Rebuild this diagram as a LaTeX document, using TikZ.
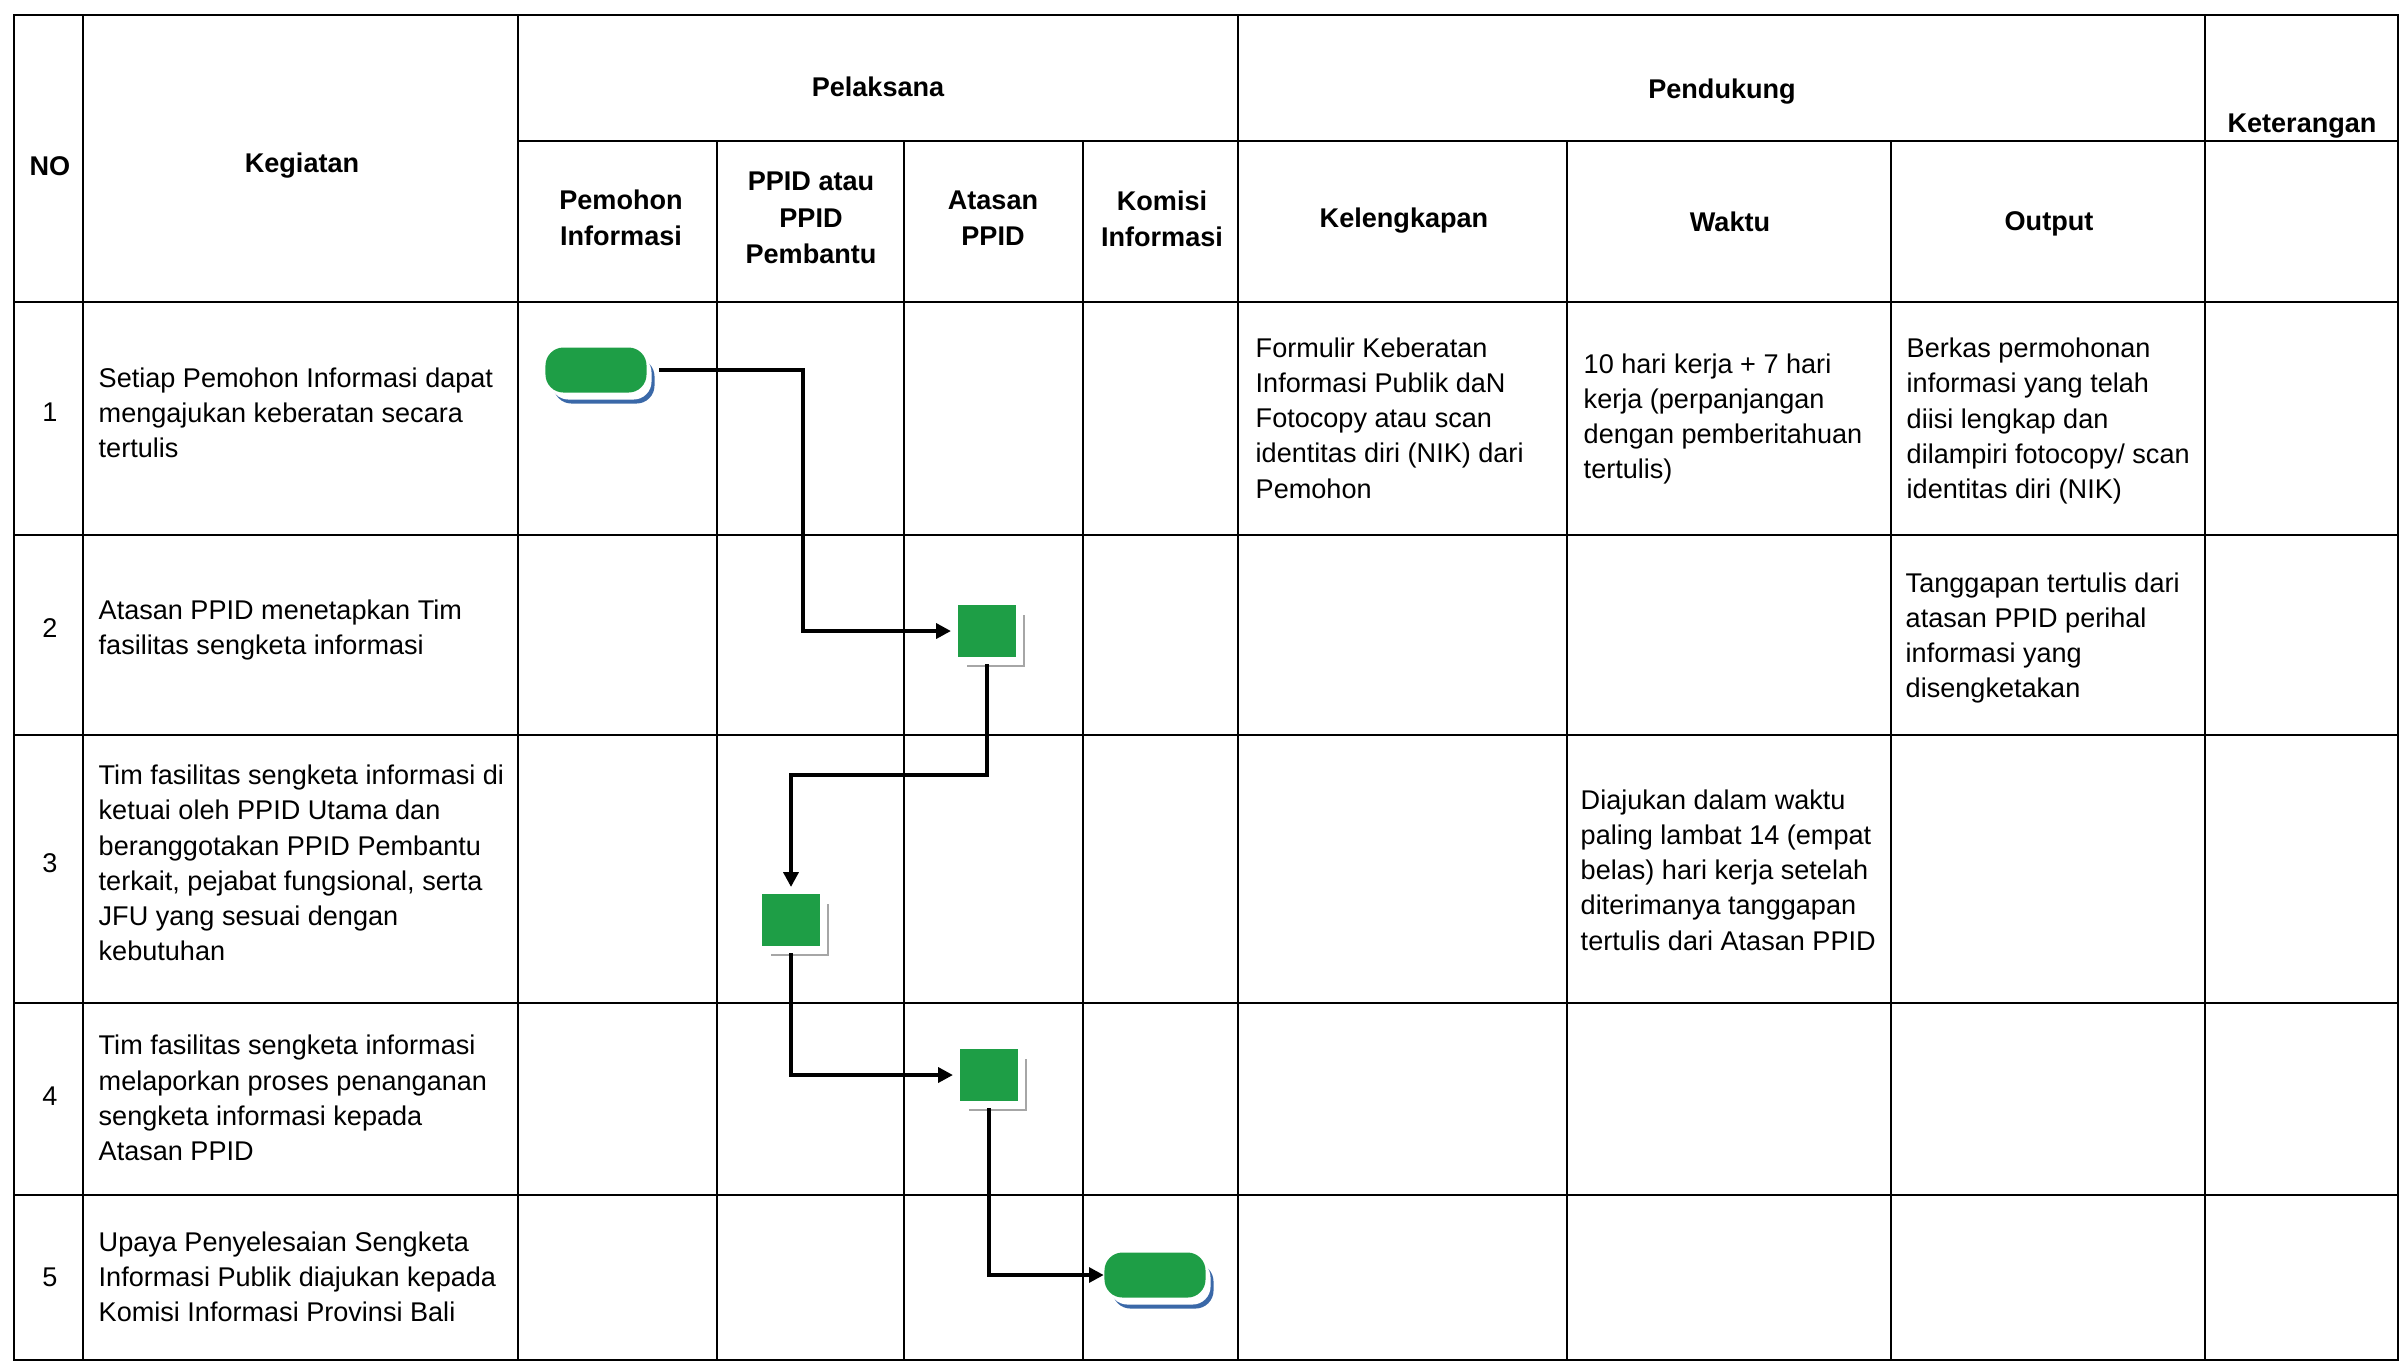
\documentclass[tikz,border=0pt]{standalone}
\usepackage{fontspec}
\setmainfont{Liberation Sans}
\usetikzlibrary{arrows.meta,shadows}
\definecolor{boxgreen}{RGB}{30,158,70}
\definecolor{shadeblue}{RGB}{58,104,168}

\begin{document}
\begin{tikzpicture}[x=0.01cm,y=-0.01cm,
  grid/.style={line width=0.7pt},
  hd/.style={font=\fontsize{7.7}{10.3}\selectfont\bfseries,align=center,inner sep=0pt},
  txt/.style={font=\fontsize{7.7}{10}\selectfont,align=left,anchor=west,inner sep=0pt},
  num/.style={font=\fontsize{7.7}{10}\selectfont,inner sep=0pt},
  term/.style={fill=boxgreen,rounded corners=0.18cm,minimum width=1.01cm,minimum height=0.45cm,inner sep=0pt,
    general shadow={fill=shadeblue,shadow xshift=0.08cm,shadow yshift=-0.11cm},
    general shadow={fill=white,shadow xshift=0.05cm,shadow yshift=-0.07cm}},
  act/.style={fill=boxgreen,minimum width=0.58cm,minimum height=0.52cm,inner sep=0pt,outer sep=0.07cm,
    general shadow={fill=gray!70,shadow xshift=0.09cm,shadow yshift=-0.1cm},
    general shadow={fill=white,shadow xshift=0.07cm,shadow yshift=-0.08cm}},
  flow/.style={line width=1.1pt,-{Triangle[length=4.2pt,width=4.2pt]}}]
\useasboundingbox (0,0) rectangle (2403,1365);

\draw[grid] (14,15) rectangle (2398,1360);
\foreach \y in {302,535,735,1003,1195} \draw[grid] (14,\y) -- (2398,\y);
\draw[grid] (518,141) -- (2398,141);
\foreach \x in {83,518,1238,2205} \draw[grid] (\x,15) -- (\x,1360);
\foreach \x in {717,904,1083,1567,1891} \draw[grid] (\x,141) -- (\x,1360);

\node[hd] (no) at (50,166) {NO};
\node[hd] (keg) at (302,166) {Kegiatan};
\node[hd] (pel) at (878,87) {Pelaksana};
\node[hd] (pen) at (1722,92) {Pendukung};
\node[hd] (ket) at (2302,126) {Keterangan};
\node[hd] (pem) at (621,218) {Pemohon\\Informasi};
\node[hd] (ppid) at (811,218) {PPID atau\\PPID\\Pembantu};
\node[hd] (ata) at (993,218) {Atasan\\PPID};
\node[hd] (kom) at (1162,219) {Komisi\\Informasi};
\node[hd] (kel) at (1404,221) {Kelengkapan};
\node[hd] (wkt) at (1730,222) {Waktu};
\node[hd] (out) at (2049,224) {Output};

\node[num] (n1) at (50,412) {1};
\node[num] (n2) at (50,628) {2};
\node[num] (n3) at (50,863) {3};
\node[num] (n4) at (50,1096) {4};
\node[num] (n5) at (50,1277) {5};

\node[txt] (k1txt) at (98,413) {Setiap Pemohon Informasi dapat\\mengajukan keberatan secara\\tertulis};
\node[txt] (k2txt) at (98,630) {Atasan PPID menetapkan Tim\\fasilitas sengketa informasi};
\node[txt] (k3txt) at (98,863) {Tim fasilitas sengketa informasi di\\ketuai oleh PPID Utama dan\\beranggotakan PPID Pembantu\\terkait, pejabat fungsional, serta\\JFU yang sesuai dengan\\kebutuhan};
\node[txt] (k4txt) at (98,1098) {Tim fasilitas sengketa informasi\\melaporkan proses penanganan\\sengketa informasi kepada\\Atasan PPID};
\node[txt] (k5txt) at (98,1277) {Upaya Penyelesaian Sengketa\\Informasi Publik diajukan kepada\\Komisi Informasi Provinsi Bali};

\node[txt] (kel1) at (1255,418) {Formulir Keberatan\\Informasi Publik daN\\Fotocopy atau scan\\identitas diri (NIK) dari\\Pemohon};
\node[txt] (wkt1) at (1583,419) {10 hari kerja + 7 hari\\kerja (perpanjangan\\dengan pemberitahuan\\tertulis)};
\node[txt] (out1) at (1906,421) {Berkas permohonan\\informasi yang telah\\diisi lengkap dan\\dilampiri fotocopy/ scan\\identitas diri (NIK)};
\node[txt] (out2) at (1905,638) {Tanggapan tertulis dari\\atasan PPID perihal\\informasi yang\\disengketakan};
\node[txt] (wkt3) at (1580,870) {Diajukan dalam waktu\\paling lambat 14 (empat\\belas) hari kerja setelah\\diterimanya tanggapan\\tertulis dari Atasan PPID};

\node[term] (t1) at (596,370) {};
\node[act] (s2) at (987,631) {};
\node[act] (s3) at (791,920) {};
\node[act] (s4) at (989,1075) {};
\node[term] (t2) at (1155,1275) {};

\coordinate (b1) at (803,370);
\coordinate (b2) at (791,775);
\draw[flow,shorten <=0.12cm] (t1.east) -- (b1) |- (s2.west);
\draw[flow] (s2.south) |- (b2) -- (s3.north);
\draw[flow] (s3.south) |- (s4.west);
\draw[flow] (s4.south) |- (t2.west);
\end{tikzpicture}
\end{document}
